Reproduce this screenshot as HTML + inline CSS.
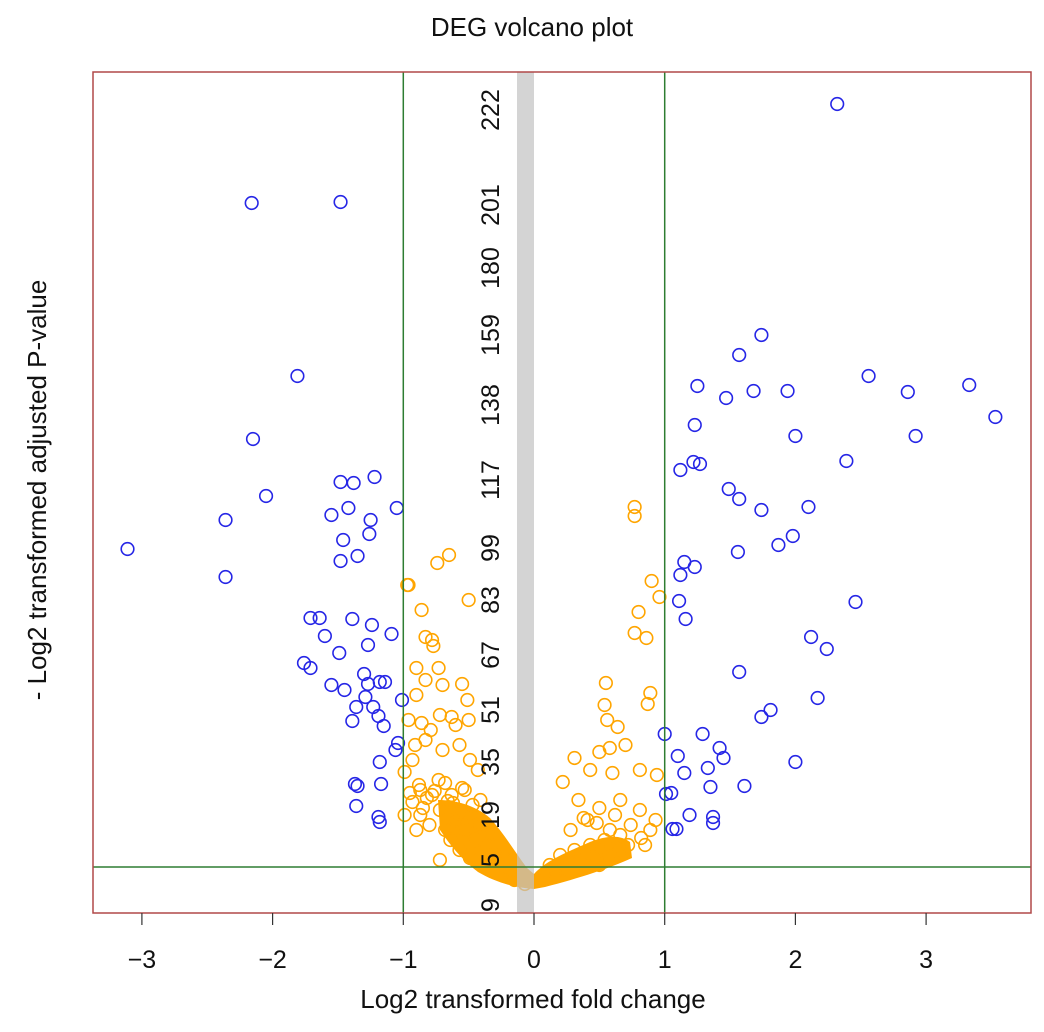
<!DOCTYPE html>
<html><head><meta charset="utf-8"><style>
html,body{margin:0;padding:0;background:#fff;}
svg{display:block;font-family:"Liberation Sans",Arial,sans-serif;}
</style></head><body>
<svg id="chart" width="1044" height="1032" viewBox="0 0 1044 1032">
<text x="532" y="36" font-size="26" text-anchor="middle" fill="#111">DEG volcano plot</text>
<text x="533" y="1008" font-size="26" text-anchor="middle" fill="#111">Log2 transformed fold change</text>
<text transform="translate(46,490) rotate(-90)" font-size="26" text-anchor="middle" fill="#111">- Log2 transformed adjusted P-value</text>
<g id="plot"></g>
</svg>
<script>
const xTicks=[-3,-2,-1,0,1,2,3];
const xTickLabels=["\u22123","\u22122","\u22121","0","1","2","3"];
const yTickVals=[80.3,70.8,64.5,57.8,50.8,43.3,36.5,31.3,25.8,20.3,15.1,9.8,5.3,0.8];
const yTickLabels=["222","201","180","159","138","117","99","83","67","51","35","19","5","9"];
const blueX=[-3.11,-2.36,-2.36,-2.16,-1.48,-2.15,-2.05,-1.81,-1.22,-1.48,-1.38,-1.55,-1.42,-1.25,-1.26,-1.46,-1.05,-1.35,-1.48,-1.71,-1.64,-1.60,-1.39,-1.24,-1.76,-1.71,-1.49,-1.27,-1.09,-1.55,-1.30,-1.27,-1.18,-1.14,-1.45,-1.01,-1.29,-1.36,-1.23,-1.39,-1.19,-1.15,-1.04,-1.06,-1.18,-1.37,-1.35,-1.36,-1.17,-1.19,-1.18,
2.32,1.74,1.57,1.25,1.47,1.68,1.94,1.23,1.22,1.27,1.12,2.00,2.56,2.86,3.33,3.53,2.92,2.39,1.49,1.57,1.74,2.10,1.15,1.12,1.23,1.56,1.98,1.87,1.11,2.46,1.16,2.12,2.24,1.57,1.81,1.74,2.17,1.29,1.42,1.45,1.00,1.10,1.15,1.33,1.61,2.00,1.05,1.01,1.35,1.19,1.37,1.37,1.06,1.09];
const blueY=[36.4,39.3,33.6,71.0,71.1,47.4,41.7,53.7,43.6,43.1,43.0,39.8,40.5,39.3,37.9,37.3,40.5,35.7,35.2,29.5,29.5,27.7,29.4,28.8,25.0,24.5,26.0,26.8,27.9,22.8,23.9,22.9,23.1,23.1,22.3,21.3,21.6,20.6,20.6,19.2,19.7,18.7,17.0,16.3,15.1,12.9,12.7,10.7,12.9,9.6,9.1,
80.9,57.8,55.8,52.7,51.5,52.2,52.2,48.8,45.1,44.9,44.3,47.7,53.7,52.1,52.8,49.6,47.7,45.2,42.4,41.4,40.3,40.6,35.1,33.8,34.6,36.1,37.7,36.8,31.2,31.1,29.4,27.6,26.4,24.1,20.3,19.6,21.5,17.9,16.5,15.5,17.9,15.7,14.0,14.5,12.7,15.1,12.0,11.9,12.6,9.8,9.6,9.0,8.4,8.4];
const orangeX=[-0.97,-0.96,-0.74,-0.65,-0.50,-0.86,-0.83,-0.78,-0.77,-0.90,-0.73,-0.83,-0.90,-0.70,-0.55,-0.51,-0.63,-0.96,-0.86,-0.79,-0.72,-0.60,-0.50,-0.91,-0.83,-0.70,-0.57,-0.49,-0.43,-0.93,-0.99,-0.87,-0.73,-0.63,-0.53,-0.41,-0.93,-0.99,-0.90,-0.72,-0.49,
0.77,0.77,0.90,0.96,0.80,0.77,0.86,0.55,0.89,0.87,0.54,0.56,0.64,0.50,0.58,0.70,0.31,0.43,0.22,0.60,0.81,0.94,0.34,0.50,0.66,0.81,0.93,0.41,0.28,0.58,0.85,0.89,
-0.87,-0.80,-0.68,-0.60,-0.53,-0.45,-0.37,-0.30,-0.26,-0.18,-0.11,-0.41,-0.49,-0.34,-0.22,-0.64,-0.57,-0.15,-0.07,-0.72,
-0.95,-0.88,-0.82,-0.76,-0.68,-0.62,-0.55,-0.47,-0.85,-0.78,-0.66,-0.58,
0.08,0.16,0.24,0.35,0.47,0.58,0.66,0.72,0.20,0.31,0.43,0.54,0.66,0.12,0.50,0.38,0.48,0.62,0.74,0.82];
const orangeY=[32.8,32.8,35.0,35.8,31.3,30.3,27.6,27.3,26.7,24.5,24.5,23.3,21.8,22.8,22.9,21.3,19.6,19.3,19.0,18.3,19.8,18.8,19.3,16.8,17.3,16.3,16.8,15.3,14.3,15.3,14.1,12.3,13.3,11.8,12.3,11.3,11.1,9.8,8.3,5.3,5.5,
40.6,39.7,33.2,31.6,30.1,28.0,27.5,23.0,22.0,20.9,20.8,19.3,18.6,16.1,16.5,16.8,15.5,14.3,13.1,14.0,14.3,13.8,11.3,10.5,11.3,10.3,9.3,9.3,8.3,8.3,6.8,8.3,
9.8,8.8,8.3,9.3,8.3,7.3,6.8,5.8,4.8,4.3,3.5,8.8,9.8,7.8,5.3,7.3,6.3,3.3,2.9,10.3,
12.0,12.8,11.5,12.2,13.0,11.0,12.5,10.8,10.5,11.8,11.2,10.0,
3.5,4.1,4.5,5.1,5.5,5.8,6.3,6.8,5.8,6.3,6.8,7.3,7.8,4.8,4.8,9.5,9.0,9.8,8.8,7.5];
const L=93,R=1031,T=72,B=913;
function sx(v){return 534+v*130.7;}
function sy(v){return 913-v*10;}
const NS="http://www.w3.org/2000/svg";
const g=document.getElementById('plot');
function mk(tag,attrs,parent){const e=document.createElementNS(NS,tag);for(const k in attrs)e.setAttribute(k,attrs[k]);(parent||g).appendChild(e);return e;}
// dense mass
let mass=mk('path',{d:'M438,800 C455,800 475,805 490,818 C505,835 515,852 527,868 L534,874 C545,862 560,855 590,842 C605,836 620,834 630,842 L632,858 C610,868 580,878 545,887 L534,889 C515,888 495,882 478,872 C462,860 450,845 440,830 Z',fill:'#ffa500'});


orangeX.forEach((x,i)=>{
 const c=mk('circle',{cx:sx(x),cy:sy(orangeY[i]),r:6.3,fill:'none',stroke:'#ffa500','stroke-width':1.6});
 
 
});
blueX.forEach((x,i)=>{
 const c=mk('circle',{cx:sx(x),cy:sy(blueY[i]),r:6.3,fill:'none',stroke:'#2626e6','stroke-width':1.6});
 
 
});
// gray center band (semi-transparent over points)
let band=mk('rect',{x:517,y:T,width:17,height:B-T,fill:'#c2c2c2',opacity:0.7});


// y tick labels inside
yTickLabels.forEach((lab,i)=>{
 const t=mk('text',{transform:`translate(499,${sy(yTickVals[i])}) rotate(-90)`,'font-size':25,'text-anchor':'middle',fill:'#111'});
 t.textContent=lab;
 
 
});
// threshold lines
[[-1],[1]].forEach(v=>{
 const l=mk('line',{x1:sx(v[0]),x2:sx(v[0]),y1:T,y2:B,stroke:'#2e7d32','stroke-width':1.5});
 
 
});
let hl=mk('line',{x1:L,x2:R,y1:sy(4.6),y2:sy(4.6),stroke:'#2e7d32','stroke-width':1.5});


// frame
let fr=mk('rect',{x:L,y:T,width:R-L,height:B-T,fill:'none',stroke:'#b04848','stroke-width':1.5});


// x ticks
xTicks.forEach((v,i)=>{
 const tk=mk('line',{x1:sx(v),x2:sx(v),y1:B,y2:B+12,stroke:'#333','stroke-width':1.2});
 
 
 const t=mk('text',{x:sx(v),y:968,'font-size':25,'text-anchor':'middle',fill:'#111'});
 t.textContent=xTickLabels[i];
 
 
});
</script>
</body></html>
